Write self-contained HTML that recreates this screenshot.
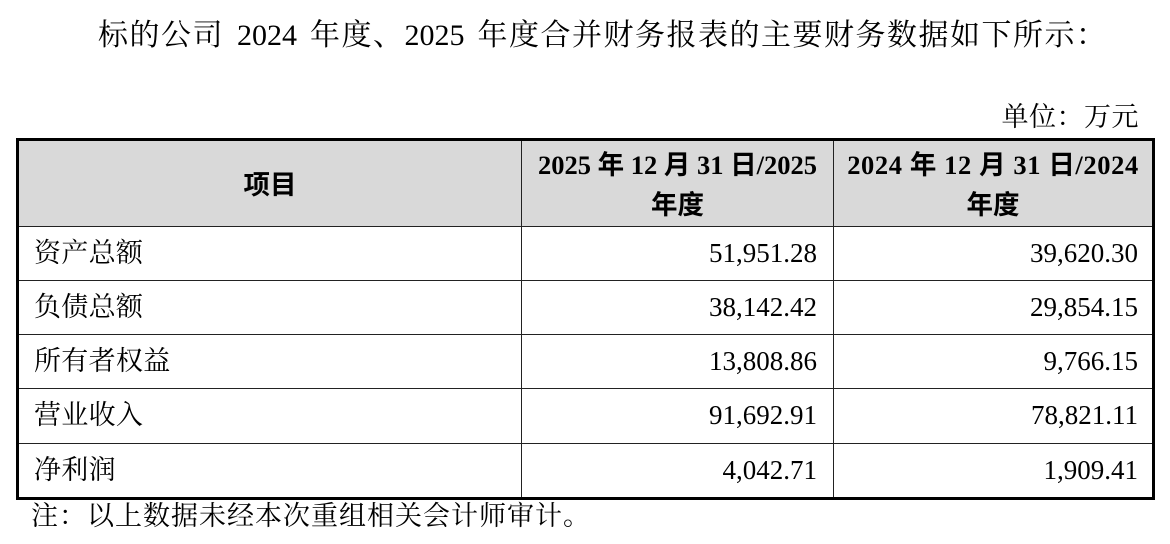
<!DOCTYPE html>
<html>
<head>
<meta charset="utf-8">
<style>
  html, body { margin:0; padding:0; }
  body { width:1170px; height:544px; background:#fff; position:relative; overflow:hidden;
         font-family:"Liberation Serif","Noto Serif CJK SC",serif; color:#000; }
  .a { position:absolute; white-space:nowrap; }
  .sp { display:inline-block; width:13px; }
  .dg { letter-spacing:0; }
  .hl { position:absolute; left:19px; width:1133px; height:1px; background:#222; }
  .vl { position:absolute; top:141px; width:1px; height:356px; background:#222; }
  .lab { position:absolute; left:34px; height:54px; line-height:54px; font-size:27px; white-space:nowrap; letter-spacing:0.3px; }
  .n2 { position:absolute; left:522px; width:295px; text-align:right; height:54px; line-height:54px; font-size:27px; white-space:nowrap; }
  .n3 { position:absolute; left:834px; width:304px; text-align:right; height:54px; line-height:54px; font-size:27px; white-space:nowrap; }
  .hd { font-family:"Liberation Serif","Noto Sans CJK SC",sans-serif; font-weight:bold; font-size:26.5px; }
  .hcell { position:absolute; top:141px; height:85px; display:flex; flex-direction:column; justify-content:center; align-items:center; text-align:center; line-height:40px; padding-top:2px; box-sizing:border-box; }
</style>
</head>
<body>
  <div class="a" style="left:98px;top:21px;font-size:30px;line-height:30px;letter-spacing:1.5px;">标的公司<span class="sp"></span><span class="dg">2024</span><span class="sp"></span>年度、<span class="dg">2025</span><span class="sp"></span>年度合并财务报表的主要财务数据如下所示：</div>

  <div class="a" style="right:31px;top:104px;font-size:27px;line-height:27px;letter-spacing:0.5px;">单位：万元</div>

  <!-- header background -->
  <div class="a" style="left:19px;top:141px;width:1133px;height:85px;background:#d9d9d9;"></div>

  <!-- outer border -->
  <div class="a" style="left:16px;top:138px;width:1139px;height:362px;border:3px solid #000;box-sizing:border-box;"></div>

  <!-- horizontal lines -->
  <div class="hl" style="top:226px;"></div>
  <div class="hl" style="top:280px;"></div>
  <div class="hl" style="top:334px;"></div>
  <div class="hl" style="top:388px;"></div>
  <div class="hl" style="top:443px;"></div>

  <!-- vertical lines -->
  <div class="vl" style="left:521px;"></div>
  <div class="vl" style="left:833px;"></div>

  <!-- header cells -->
  <div class="hcell hd" style="left:19px;width:502px;">项目</div>
  <div class="hcell hd" style="left:522px;width:311px;"><div>2025 年 12 月 31 日/2025</div><div>年度</div></div>
  <div class="hcell hd" style="left:834px;width:318px;"><div style="letter-spacing:0.6px;">2024 年 12 月 31 日/2024</div><div>年度</div></div>

  <!-- rows -->
  <div class="lab" style="top:226px;">资产总额</div>
  <div class="n2" style="top:226px;">51,951.28</div>
  <div class="n3" style="top:226px;">39,620.30</div>

  <div class="lab" style="top:280px;">负债总额</div>
  <div class="n2" style="top:280px;">38,142.42</div>
  <div class="n3" style="top:280px;">29,854.15</div>

  <div class="lab" style="top:334px;">所有者权益</div>
  <div class="n2" style="top:334px;">13,808.86</div>
  <div class="n3" style="top:334px;">9,766.15</div>

  <div class="lab" style="top:388px;height:55px;line-height:55px;">营业收入</div>
  <div class="n2" style="top:388px;height:55px;line-height:55px;">91,692.91</div>
  <div class="n3" style="top:388px;height:55px;line-height:55px;">78,821.11</div>

  <div class="lab" style="top:443px;">净利润</div>
  <div class="n2" style="top:443px;">4,042.71</div>
  <div class="n3" style="top:443px;">1,909.41</div>

  <div class="a" style="left:31px;top:503px;font-size:27px;line-height:27px;letter-spacing:1px;">注：以上数据未经本次重组相关会计师审计。</div>
</body>
</html>
